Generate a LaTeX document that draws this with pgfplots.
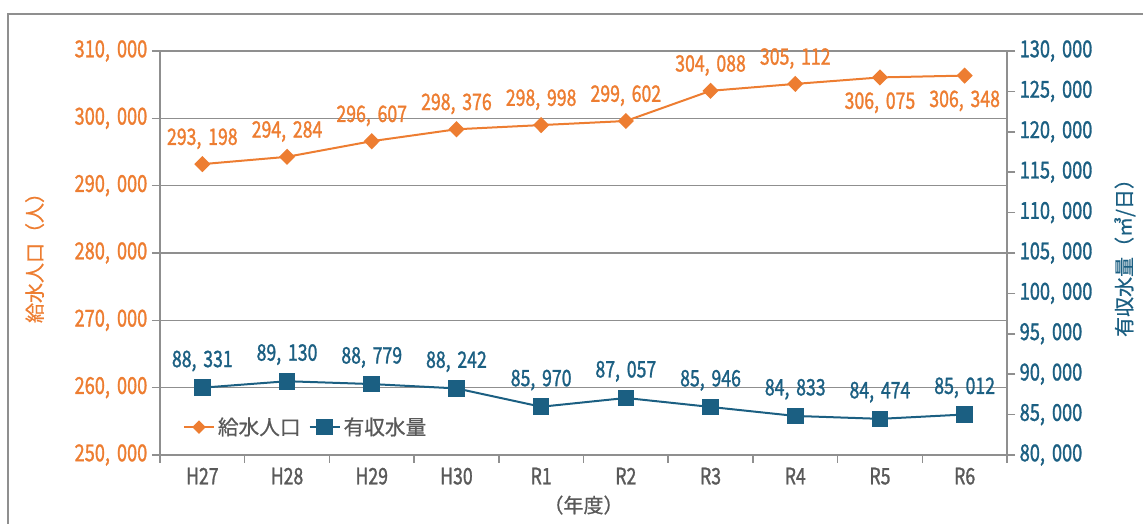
\documentclass[border=0pt]{standalone}
\usepackage{fontspec}
\setmainfont{Noto Sans CJK JP}[FakeBold=0.6]
\newfontfamily\numfont{Noto Sans CJK JP}[FakeStretch=0.78, FakeBold=1.2]
\usepackage{pgfplots}
\pgfplotsset{compat=1.18}
\definecolor{orng}{HTML}{ED7D31}
\definecolor{blu}{HTML}{1B5F82}
\definecolor{gridc}{HTML}{8F8F8F}
\definecolor{txtg}{HTML}{595959}
\pgfplotstableread{
x pop water
0 293198 88331
1 294284 89130
2 296607 88779
3 298376 88242
4 298998 85970
5 299602 87057
6 304088 85946
7 305112 84833
8 306075 84474
9 306348 85012
}\data
\tikzset{numf/.style={font=\numfont\fontsize{17}{20}\selectfont},
         ynumf/.style={font=\numfont\fontsize{17.5}{20}\selectfont}}
\pgfplotsset{
  common/.style={
    at={(120pt,51.75pt)}, anchor=south west,
    scale only axis, width=635.25pt, height=303pt,
    xmin=-0.5, xmax=9.5,
    tick align=outside, major tick length=6pt,
    axis line style={gridc, line width=1.1pt},
    tick style={gridc, line width=1.1pt},
    scaled y ticks=false,
    /pgf/number format/fixed,
    /pgf/number format/precision=0,
    /pgf/number format/1000 sep={,\hspace{0.3em}},
    /pgf/number format/assume math mode=true,
  },
}
\begin{document}
\begin{tikzpicture}
\useasboundingbox (0,0) rectangle (857.25pt,393pt);
\draw[gridc, line width=1.4pt] (6pt,0) -- (6pt,382.5pt) -- (857.25pt,382.5pt);
\begin{axis}[common,
  ymin=250000, ymax=310000,
  ytick={250000,260000,...,310000},
  xtick={-0.5,0.5,...,9.5}, x tick label as interval,
  xticklabels={H27,H28,H29,H30,R1,R2,R3,R4,R5,R6},
  axis x line*=bottom, axis y line*=left,
  ymajorgrids, grid style={gridc, line width=1.1pt},
  yticklabel style={ynumf, orng},
  xticklabel style={numf, txtg},
  ylabel={給水人口（人）},
  ylabel style={font=\fontsize{15}{18}\selectfont, orng, at={(axis description cs:-0.148,0.5)}, anchor=center, rotate=0},
  xlabel={（年度）},
  xlabel style={font=\fontsize{15}{18}\selectfont, txtg, at={(axis description cs:0.5,-0.124)}, anchor=center},
]
\addplot[orng, line width=1.5pt, mark=diamond*, mark size=5pt, mark options={xscale=1.33, solid}] table[x=x, y=pop] {\data};
\addplot[draw=none, mark=none, point meta=explicit, restrict x to domain=0:7,
  nodes near coords={\pgfmathprintnumber{\pgfplotspointmeta}},
  every node near coord/.style={numf, orng, anchor=south, inner sep=0pt, yshift=11pt}]
  table[x=x, y=pop, meta=pop] {\data};
\addplot[draw=none, mark=none, point meta=explicit, restrict x to domain=8:9,
  nodes near coords={\pgfmathprintnumber{\pgfplotspointmeta}},
  every node near coord/.style={numf, orng, anchor=north, inner sep=0pt, yshift=-11pt}]
  table[x=x, y=pop, meta=pop] {\data};
\end{axis}
\begin{axis}[common,
  ymin=80000, ymax=130000,
  ytick={80000,85000,...,130000},
  axis x line=none, axis y line*=right,
  yticklabel style={ynumf, blu},
  ylabel={有収水量（㎥/日）},
  ylabel style={font=\fontsize{15}{18}\selectfont, blu, at={(axis description cs:1.139,0.5)}, anchor=center, rotate=0},
  legend style={at={(0.022,0.069)}, anchor=west, draw=none, fill=none, legend columns=2,
    font=\fontsize{15.5}{18}\selectfont, text=txtg,
    /tikz/every even column/.append style={column sep=4pt}},
  legend image code/.code={\draw[mark repeat=2,mark phase=2] plot coordinates {(0cm,0cm) (0.4cm,0cm) (0.8cm,0cm)};},
]
\addlegendimage{orng, line width=1.5pt, mark=diamond*, mark size=4pt, mark options={xscale=1.33, solid}}
\addlegendentry{給水人口}
\addplot[blu, line width=1.5pt, mark=square*, mark size=5.5pt, mark options={solid}] table[x=x, y=water] {\data};
\addlegendentry{有収水量}
\addplot[draw=none, mark=none, point meta=explicit, forget plot,
  nodes near coords={\pgfmathprintnumber{\pgfplotspointmeta}},
  every node near coord/.style={numf, blu, anchor=south, inner sep=0pt, yshift=12pt}]
  table[x=x, y=water, meta=water] {\data};
\end{axis}
\end{tikzpicture}
\end{document}
